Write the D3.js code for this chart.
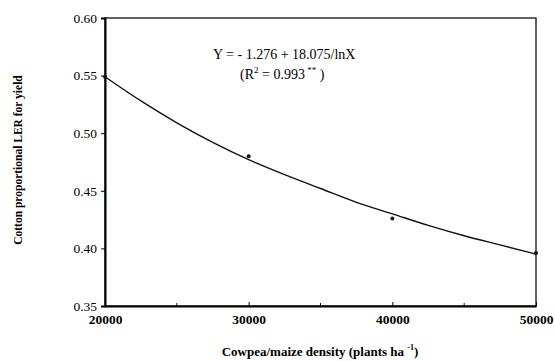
<!DOCTYPE html>
<html>
<head>
<meta charset="utf-8">
<script src="https://cdn.jsdelivr.net/npm/d3@7"></script>
<style>
  body { margin: 0; background: #fff; }
  text { font-family: "Liberation Serif", "DejaVu Serif", serif; fill: #000; }
</style>
</head>
<body>
<div id="chart"></div>
<script>
var svgWidth = 555;
var svgHeight = 361;

var margin = { top: 18, right: 19, bottom: 55, left: 105 };
var width = svgWidth - margin.left - margin.right;
var height = svgHeight - margin.top - margin.bottom;

// observed points
var densities = [20000, 30000, 40000, 50000];
var lerValues = [0.549, 0.480, 0.426, 0.396];

// fitted curve
var curveX = [20000, 22500, 25000, 27500, 30000, 32500, 35000, 37500, 40000, 42500, 45000, 47500, 50000];
var curveY = [0.549, 0.528, 0.509, 0.492, 0.477, 0.464, 0.452, 0.440, 0.430, 0.420, 0.411, 0.403, 0.395];

var xTicks = [20000, 30000, 40000, 50000];
var xMinorTicks = [25000, 35000, 45000];
var yTicks = [0.35, 0.40, 0.45, 0.50, 0.55, 0.60];

var svg = d3.select("#chart")
  .append("svg")
  .attr("width", svgWidth)
  .attr("height", svgHeight);

var chartGroup = svg.append("g")
  .attr("transform", `translate(${margin.left}, ${margin.top})`);

var xScale = d3.scaleLinear().domain([20000, 50000]).range([0, width]);
var yScale = d3.scaleLinear().domain([0.35, 0.60]).range([height, 0]);

// frame
chartGroup.append("rect")
  .attr("width", width)
  .attr("height", height)
  .attr("fill", "none")
  .attr("stroke", "#111")
  .attr("stroke-width", 1.3);

// y axis
var leftAxis = d3.axisLeft(yScale)
  .tickValues(yTicks)
  .tickFormat(d3.format(".2f"))
  .tickSize(4)
  .tickPadding(4);

var yAxis = chartGroup.append("g").call(leftAxis);
yAxis.select(".domain").attr("stroke-width", 2);
yAxis.selectAll("text").style("font-size", "13.5px");

// x axis, ticks point inward
var bottomAxis = d3.axisBottom(xScale)
  .tickValues(xTicks)
  .tickFormat(d3.format("d"))
  .tickSizeInner(-4)
  .tickSizeOuter(0)
  .tickPadding(8);

var xAxis = chartGroup.append("g")
  .attr("transform", `translate(0, ${height})`)
  .call(bottomAxis);
xAxis.select(".domain").attr("stroke-width", 2);
xAxis.selectAll("text").style("font-size", "13.5px").style("font-weight", "bold");

chartGroup.append("g")
  .selectAll("line")
  .data(xMinorTicks)
  .enter()
  .append("line")
  .attr("x1", d => xScale(d))
  .attr("x2", d => xScale(d))
  .attr("y1", height)
  .attr("y2", height - 3)
  .attr("stroke", "#111");

// fitted curve
var line = d3.line()
  .x(d => xScale(d[0]))
  .y(d => yScale(d[1]))
  .curve(d3.curveMonotoneX);

chartGroup.append("path")
  .datum(curveX.map((x, i) => [x, curveY[i]]))
  .attr("d", line)
  .attr("fill", "none")
  .attr("stroke", "#111")
  .attr("stroke-width", 1.4);

// observed points
chartGroup.selectAll(".pt")
  .data(densities)
  .enter()
  .append("circle")
  .attr("class", "pt")
  .attr("cx", d => xScale(d))
  .attr("cy", (d, i) => yScale(lerValues[i]))
  .attr("r", 2)
  .attr("fill", "#111");

// equation
var eq = svg.append("g");
eq.append("text")
  .attr("x", 213)
  .attr("y", 59)
  .style("font-size", "14px")
  .text("Y = - 1.276 + 18.075/lnX");

var r2 = eq.append("text")
  .attr("x", 240)
  .attr("y", 79)
  .style("font-size", "14px");
r2.append("tspan").text("(R");
r2.append("tspan").attr("dy", -6).style("font-size", "9px").text("2");
r2.append("tspan").attr("dy", 6).text(" = 0.993");
r2.append("tspan").attr("dy", -6).style("font-size", "9px").text("  **");
r2.append("tspan").attr("dy", 6).text(" )");

// axis titles
svg.append("text")
  .attr("transform", "translate(22, 160) rotate(-90)")
  .attr("text-anchor", "middle")
  .style("font-size", "11.5px")
  .style("font-weight", "bold")
  .text("Cotton proportional LER for yield");

var xTitle = svg.append("text")
  .attr("x", 320)
  .attr("y", 356)
  .attr("text-anchor", "middle")
  .style("font-size", "13px")
  .style("font-weight", "bold");
xTitle.append("tspan").text("Cowpea/maize density (plants ha ");
xTitle.append("tspan").attr("dy", -6).style("font-size", "8px").text("-1");
xTitle.append("tspan").attr("dy", 6).text(")");
</script>
</body>
</html>
